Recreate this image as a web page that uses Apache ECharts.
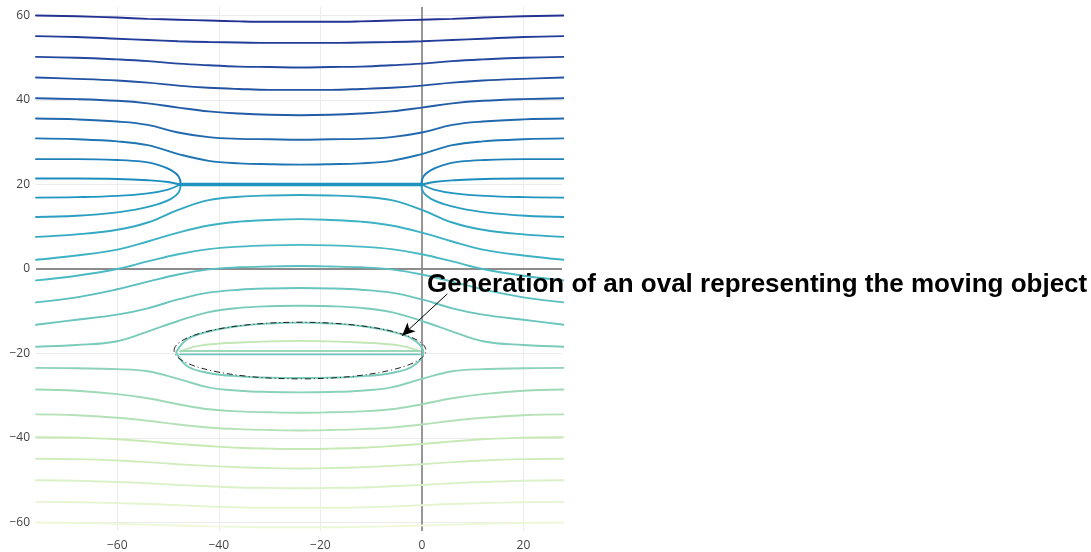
<!DOCTYPE html>
<html>
<head>
<meta charset="utf-8">
<script src="https://cdn.jsdelivr.net/npm/echarts@6/dist/echarts.min.js"></script>
<style>
  html, body { margin: 0; padding: 0; background: #fff; }
  #chart { width: 1091px; height: 552px; }
</style>
</head>
<body>
<div id="chart"></div>
<script>
// Axis ticks
const xTicks = [-60, -40, -20, 0, 20];
const yTicks = [-60, -40, -20, 0, 20, 40, 60];

// Sample positions along x shared by the open streamlines
const xs = [-76, -68, -60, -54, -48, -42, -36, -30, -24, -18, -12, -6, 0, 6, 12, 20, 28];

// Open streamlines (y at each xs), top to bottom
const lineA = [60.0, 59.8, 59.5, 59.2, 59.0, 58.8, 58.6, 58.5, 58.5, 58.5, 58.6, 58.8, 59.0, 59.2, 59.5, 59.8, 60.0];
const lineB = [55.1, 54.9, 54.5, 54.2, 53.9, 53.7, 53.6, 53.5, 53.5, 53.5, 53.6, 53.7, 53.9, 54.2, 54.5, 54.9, 55.1];
const lineC = [50.2, 50.0, 49.6, 49.2, 48.6, 48.2, 47.9, 47.8, 47.7, 47.8, 47.9, 48.2, 48.6, 49.2, 49.6, 50.0, 50.2];
const lineD = [45.3, 45.0, 44.6, 44.1, 43.4, 42.9, 42.6, 42.4, 42.4, 42.4, 42.6, 42.9, 43.4, 44.1, 44.6, 45.0, 45.3];
const lineE = [40.4, 40.2, 39.8, 39.2, 38.2, 37.3, 36.8, 36.5, 36.4, 36.5, 36.8, 37.3, 38.2, 39.2, 39.8, 40.2, 40.4];
const lineF = [35.6, 35.4, 34.9, 34.1, 32.3, 31.2, 30.8, 30.7, 30.6, 30.7, 30.8, 31.2, 32.3, 34.1, 34.9, 35.4, 35.6];
const lineG = [30.9, 30.7, 30.2, 29.3, 27.2, 25.6, 25.0, 24.8, 24.7, 24.8, 25.0, 25.6, 27.2, 29.3, 30.2, 30.7, 30.9];
const lineL = [7.6, 8.2, 9.3, 11.0, 14.0, 16.3, 17.1, 17.4, 17.5, 17.4, 17.1, 16.3, 14.0, 11.0, 9.3, 8.2, 7.6];
const lineM = [2.2, 3.2, 4.6, 6.5, 8.6, 10.3, 11.2, 11.6, 11.8, 11.6, 11.2, 10.3, 8.6, 6.5, 4.6, 3.2, 2.2];
const lineN = [-2.7, -1.6, 0.0, 1.8, 3.5, 4.7, 5.3, 5.6, 5.7, 5.6, 5.3, 4.7, 3.5, 1.8, 0.0, -1.6, -2.7];
const lineO = [-7.9, -6.7, -4.8, -3.0, -1.3, -0.1, 0.4, 0.6, 0.7, 0.6, 0.4, -0.1, -1.3, -3.0, -4.8, -6.7, -7.9];
const lineP = [-13.2, -12.0, -10.8, -9.3, -7.2, -5.6, -4.9, -4.6, -4.5, -4.6, -4.9, -5.6, -7.2, -9.3, -10.8, -12.0, -13.2];
const lineQ = [-18.4, -18.0, -17.1, -14.8, -12.3, -10.2, -9.2, -8.8, -8.7, -8.8, -9.2, -10.2, -12.3, -14.8, -17.1, -18.0, -18.4];
const lineR = [-23.4, -23.5, -23.7, -24.2, -26.0, -28.0, -28.8, -29.1, -29.2, -29.1, -28.8, -28.0, -26.0, -24.2, -23.7, -23.5, -23.4];
const lineS = [-28.5, -28.8, -29.6, -30.6, -32.0, -33.2, -33.7, -33.9, -34.0, -33.9, -33.7, -33.2, -32.0, -30.6, -29.6, -28.8, -28.5];
const lineT = [-34.4, -34.6, -35.2, -35.9, -36.8, -37.5, -37.9, -38.1, -38.2, -38.1, -37.9, -37.5, -36.8, -35.9, -35.2, -34.6, -34.4];
const lineU = [-39.8, -39.9, -40.3, -40.8, -41.4, -41.9, -42.3, -42.5, -42.6, -42.5, -42.3, -41.9, -41.4, -40.8, -40.3, -39.9, -39.8];
const lineV = [-44.9, -45.0, -45.3, -45.7, -46.2, -46.6, -46.9, -47.1, -47.2, -47.1, -46.9, -46.6, -46.2, -45.7, -45.3, -45.0, -44.9];
const lineW = [-50.0, -50.1, -50.4, -50.7, -51.1, -51.4, -51.7, -51.8, -51.9, -51.8, -51.7, -51.4, -51.1, -50.7, -50.4, -50.1, -50.0];
const lineX = [-55.1, -55.2, -55.4, -55.6, -55.9, -56.2, -56.4, -56.5, -56.5, -56.5, -56.4, -56.2, -55.9, -55.6, -55.4, -55.2, -55.1];
const lineY = [-60.0, -60.1, -60.3, -60.5, -60.7, -60.9, -61.0, -61.1, -61.1, -61.1, -61.0, -60.9, -60.7, -60.5, -60.3, -60.1, -60.0];

// Streamlines ending in the upper singular pair: inflow part and outflow part
const lineH = [
  [[-76, 26.0], [-68, 26.0], [-60, 25.8], [-55, 25.4], [-51.8, 24.6], [-49.4, 23.4], [-47.9, 21.9], [-47.5, 20.0]],
  [[-0.1, 20.0], [0.3, 21.9], [1.8, 23.4], [4.2, 24.6], [7.4, 25.4], [12.4, 25.8], [20.4, 26.0], [28, 26.0]]
];
const lineI1 = [
  [[-76, 21.4], [-68, 21.4], [-60, 21.3], [-54, 21.0], [-50, 20.6], [-47.6, 20.0]],
  [[0, 20.0], [2.4, 20.6], [6.4, 21.0], [12.4, 21.3], [20.4, 21.4], [28, 21.4]]
];
const lineI2 = [
  [[-76, 16.9], [-68, 17.0], [-60, 17.3], [-54, 17.9], [-50, 18.8], [-47.6, 20.0]],
  [[0, 20.0], [2.4, 18.8], [6.4, 17.9], [12.4, 17.3], [20.4, 17.0], [28, 16.9]]
];
const lineK = [
  [[-76, 12.3], [-68, 12.6], [-60, 13.4], [-55, 14.4], [-51.8, 15.4], [-49.4, 16.6], [-47.9, 18.1], [-47.5, 20.0]],
  [[-0.1, 20.0], [0.3, 18.1], [1.8, 16.6], [4.2, 15.4], [7.4, 14.4], [12.4, 13.4], [20.4, 12.6], [28, 12.3]]
];
// Segment joining the two singular points, where those contour lines pile up
const pairSegment = [[-47.6, 20.0], [0, 20.0]];

// Closed contour around the lower pair and the lines inside it
const ovalLoop = [
  [-48.4, -19.7], [-46.2, -16.6], [-42, -14.8], [-36, -13.5], [-30, -12.9], [-24, -12.7], [-18, -12.9],
  [-12, -13.5], [-6, -14.8], [-1.8, -16.6], [0.3, -19.7], [-1.8, -23.0], [-6, -24.6], [-12, -25.4],
  [-18, -25.7], [-24, -25.8], [-30, -25.7], [-36, -25.4], [-42, -24.6], [-46.2, -23.0], [-48.4, -19.7]
];
const ovalInnerArc = [[-47.6, -19.5], [-44, -18.2], [-36, -17.4], [-24, -17.0], [-12, -17.4], [-4, -18.2], [-0.4, -19.5]];
const ovalInnerMid = [[-47.6, -19.4], [-0.4, -19.4]];
const ovalInnerLow = [[-47.6, -20.2], [-0.4, -20.2]];

// Contour level of each line (its far-field height); sets its colour
const openLines = [
  [lineA, 60.0], [lineB, 55.1], [lineC, 50.2], [lineD, 45.3], [lineE, 40.4], [lineF, 35.6], [lineG, 30.9],
  [lineL, 7.6], [lineM, 2.2], [lineN, -2.7], [lineO, -7.9], [lineP, -13.2], [lineQ, -18.4],
  [lineR, -23.4], [lineS, -28.5], [lineT, -34.4], [lineU, -39.8], [lineV, -44.9], [lineW, -50.0],
  [lineX, -55.1], [lineY, -60.0]
];
const pairLines = [[lineH, 26.0], [lineI1, 21.4], [lineI2, 16.9], [lineK, 12.3]];
const pairSegmentLevel = 19.0;
const ovalLines = [[ovalInnerArc, -38], [ovalInnerMid, -28], [ovalInnerLow, -14], [ovalLoop, -18]];

// Bounding box of the dashed oval shape and the annotation arrow (data units)
const ovalBox = { x0: -48.8, x1: 0.8, y0: -26.0, y1: -12.6 };
const arrowTail = [5.0, -5.9];
const arrowHead = [-3.9, -15.8];
const noteText = 'Generation of an oval representing the moving object';

// YlGnBu colour scale
const stops = [
  [0, [8, 29, 88]], [0.125, [37, 52, 148]], [0.25, [34, 94, 168]], [0.375, [29, 145, 192]],
  [0.5, [65, 182, 196]], [0.625, [127, 205, 187]], [0.75, [199, 233, 180]], [0.875, [237, 248, 217]],
  [1, [255, 255, 217]]
];
function colorFor(level) {
  const t = Math.max(0, Math.min(1, 0.5 - level * 0.0063));
  for (let i = 1; i < stops.length; i++) {
    if (t <= stops[i][0]) {
      const a = stops[i - 1], b = stops[i];
      const f = (t - a[0]) / (b[0] - a[0]);
      const c = a[1].map((v, k) => Math.round(v + (b[1][k] - v) * f));
      return 'rgb(' + c.join(',') + ')';
    }
  }
  return 'rgb(255,255,217)';
}

function lineSeries(data, color, smooth, width) {
  return {
    type: 'line', data: data, showSymbol: false, symbol: 'none', smooth: smooth,
    silent: true, z: 10, clip: true,
    lineStyle: { color: color, width: width || 1.9, cap: 'round' }
  };
}

const series = [];
// background grid lines
series.push({
  type: 'scatter', data: [], silent: true, z: 1,
  markLine: {
    z: 1, silent: true, symbol: 'none', animation: false, label: { show: false },
    lineStyle: { color: '#ececec', width: 1, type: 'solid' },
    data: xTicks.filter(v => v !== 0).map(v => ({ xAxis: v }))
      .concat(yTicks.filter(v => v !== 0).map(v => ({ yAxis: v })))
  }
});
// zero lines
series.push({
  type: 'scatter', data: [], silent: true, z: 2,
  markLine: {
    z: 2, silent: true, symbol: 'none', animation: false, label: { show: false },
    lineStyle: { color: '#8c8c8c', width: 1.8, type: 'solid' },
    data: [{ xAxis: 0 }, { yAxis: 0 }]
  }
});

openLines.forEach(([ys, lv]) => {
  series.push(lineSeries(xs.map((x, i) => [x, ys[i]]), colorFor(lv), 0.4));
});
ovalLines.forEach(([pts, lv]) => {
  series.push(lineSeries(pts, colorFor(lv), 0.4));
});
pairLines.forEach(([parts, lv]) => {
  parts.forEach(p => series.push(lineSeries(p, colorFor(lv), 0.4)));
});
const seg = lineSeries(pairSegment, colorFor(pairSegmentLevel), false, 3.4);
seg.z = 11;
series.push(seg);

// annotation arrow
series.push({
  type: 'scatter', data: [], silent: true, z: 20,
  markLine: {
    z: 20, silent: true, animation: false, symbol: ['none', 'arrow'], symbolSize: [9, 13],
    label: { show: false },
    lineStyle: { color: '#000', width: 1, type: 'solid' },
    data: [[{ coord: arrowTail }, { coord: arrowHead }]]
  }
});

const tickText = v => String(v).replace('-', '\u2212');
const axisLabelStyle = { color: '#444', fontSize: 12, fontFamily: 'Open Sans, sans-serif', formatter: tickText };

const chart = echarts.init(document.getElementById('chart'), null, { renderer: 'canvas' });
chart.setOption({
  animation: false,
  backgroundColor: '#fff',
  grid: { left: 36, right: 529, top: 7, bottom: 17, containLabel: false },
  xAxis: {
    type: 'value', min: -76, max: 27.6,
    axisLine: { show: false },
    splitLine: { show: false },
    axisTick: { show: true, customValues: xTicks, length: 5, lineStyle: { color: '#777' } },
    axisLabel: Object.assign({ customValues: xTicks, margin: 9 }, axisLabelStyle)
  },
  yAxis: {
    type: 'value', min: -62, max: 62,
    axisLine: { show: false },
    splitLine: { show: false },
    axisTick: { show: true, customValues: yTicks, length: 5, lineStyle: { color: '#777' } },
    axisLabel: Object.assign({ customValues: yTicks, margin: 6 }, axisLabelStyle)
  },
  series: series
});

// dashed oval shape and note text
const p0 = chart.convertToPixel({ gridIndex: 0 }, [ovalBox.x0, ovalBox.y1]);
const p1 = chart.convertToPixel({ gridIndex: 0 }, [ovalBox.x1, ovalBox.y0]);
chart.setOption({
  graphic: [
    {
      type: 'ellipse', silent: true, z: 15,
      shape: { cx: (p0[0] + p1[0]) / 2, cy: (p0[1] + p1[1]) / 2, rx: (p1[0] - p0[0]) / 2, ry: (p1[1] - p0[1]) / 2 },
      style: { fill: 'none', stroke: '#222', lineWidth: 1, lineDash: [6, 3, 1, 3] }
    },
    {
      type: 'text', silent: true, z: 20, x: 427, y: 285,
      style: {
        text: noteText, fill: '#000', font: 'bold 26px "Liberation Sans", Arial, sans-serif',
        textAlign: 'left', textVerticalAlign: 'middle'
      }
    }
  ]
});
</script>
</body>
</html>
